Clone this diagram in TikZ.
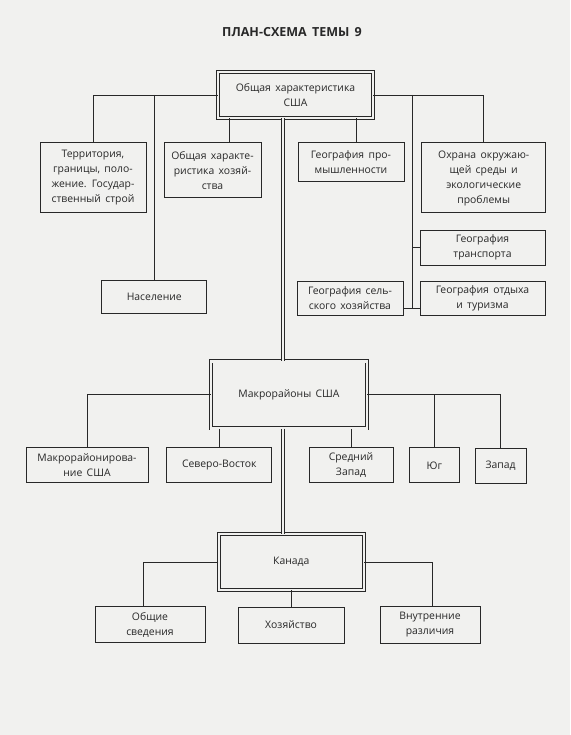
\documentclass[tikz,border=0pt]{standalone}
\usepackage{fontspec}
\setmainfont{Open Sans}
\usepackage{tikz}

\definecolor{paper}{RGB}{241,241,239}
\definecolor{ink}{RGB}{40,40,40}
\newcommand{\widespace}{\spaceskip=0.42em plus 0.1em\relax}

\tikzset{
  box/.style={draw=ink, line width=1pt, align=center, inner sep=2pt,
    font=\fontsize{10.4}{15}\selectfont\widespace, text=ink},
  dbox/.style={box, double=paper, double distance=2.6pt, line width=0.8pt},
  link/.style={draw=ink, line width=0.8pt},
  spine/.style={draw=ink, double=paper, double distance=2.4pt, line width=0.7pt}
}

\begin{document}
\begin{tikzpicture}[x=1pt, y=-1pt]
    \fill[paper] (0,0) rectangle (570,735);
    \useasboundingbox (0,0) rectangle (570,735);
    \node[font=\fontsize{12.5}{14}\selectfont\bfseries\widespace, text=ink] (title) at (292,32) {ПЛАН-СХЕМА ТЕМЫ 9};
    % USA, general part
    \node[dbox, minimum width=155, minimum height=46] (top) at (295.5,95) {Общая характеристика\\ США};
    \node[box, minimum width=106, minimum height=70] (terr) at (93,178) {Территория,\\ границы, поло-\\жение. Государ-\\ственный строй};
    \node[box, minimum width=97, minimum height=55] (econ) at (212.5,170.5) {Общая характе-\\ристика хозяй-\\ства};
    \node[box, minimum width=105, minimum height=33] (pop) at (154.3,296.5) {Население};
    \node[box, minimum width=106, minimum height=39] (ind) at (351,162.5) {География про-\\мышленности};
    \node[box, minimum width=124, minimum height=70] (env) at (483.7,178) {Охрана окружаю-\\щей среды и\\ экологические\\ проблемы};
    \node[box, minimum width=125, minimum height=35] (trans) at (482.5,247.5) {География\\ транспорта};
    \node[box, minimum width=106, minimum height=34] (agri) at (350,298) {География сель-\\ского хозяйства};
    \node[box, minimum width=125, minimum height=34] (rest) at (482.5,298) {География отдыха\\ и туризма};
    % macroregions
    \node[dbox, minimum width=156, minimum height=67] (macro) at (289,394.7) {Макрорайоны США};
    \node[box, minimum width=122, minimum height=35] (mr) at (87,464.7) {Макрорайонирова-\\ние США};
    \node[box, minimum width=105, minimum height=35] (ne) at (219.3,464.7) {Северо-Восток};
    \node[box, minimum width=84, minimum height=35] (mw) at (351,465) {Средний\\ Запад};
    \node[box, minimum width=50, minimum height=35] (south) at (434.3,465.3) {Юг};
    \node[box, minimum width=51, minimum height=35] (west) at (500.5,465.5) {Запад};
    % Canada
    \node[dbox, minimum width=145, minimum height=56] (can) at (291.3,562) {Канада};
    \node[box, minimum width=110, minimum height=36] (gen) at (150,624.7) {Общие\\ сведения};
    \node[box, minimum width=106, minimum height=36] (hoz) at (291,625) {Хозяйство};
    \node[box, minimum width=100, minimum height=37] (diff) at (430,624.5) {Внутренние\\ различия};
    % main double line
    \coordinate (sp) at (283,0);
    \draw[spine] (top.south -| sp) -- (macro.north -| sp);
    \draw[spine] (macro.south -| sp) -- (can.north -| sp);
    % links of the general part
    \draw[link] (top.west) -| (terr.north);
    \draw[link] (top.west -| pop.north) -- (pop.north);
    \draw[link] (econ.north) ++(16.5,0) coordinate (e1) -- (e1 |- top.south);
    \draw[link] (ind.north) ++(5.5,0) coordinate (i1) -- (i1 |- top.south);
    \draw[link] (top.east) -| (env.north);
    \coordinate (j) at (412,308);
    \draw[link] (top.east -| j) -- (j);
    \draw[link] (j |- trans.west) -- (trans.west);
    \draw[link] (agri.east |- j) -- (rest.west |- j);
    % links of the macroregions
    \draw[link] (macro.west) -| (mr.north);
    \draw[link] (ne.north) -- (ne.north |- macro.south);
    \draw[link] (mw.north) -- (mw.north |- macro.south);
    \draw[link] (macro.east) -| (west.north);
    \draw[link] (south.north) -- (south.north |- macro.east);
    % links of Canada
    \draw[link] (can.west) -| ([xshift=-7pt]gen.north);
    \draw[link] (hoz.north) -- (hoz.north |- can.south);
    \draw[link] (can.east) -| ([xshift=2.5pt]diff.north);
\end{tikzpicture}
\end{document}
